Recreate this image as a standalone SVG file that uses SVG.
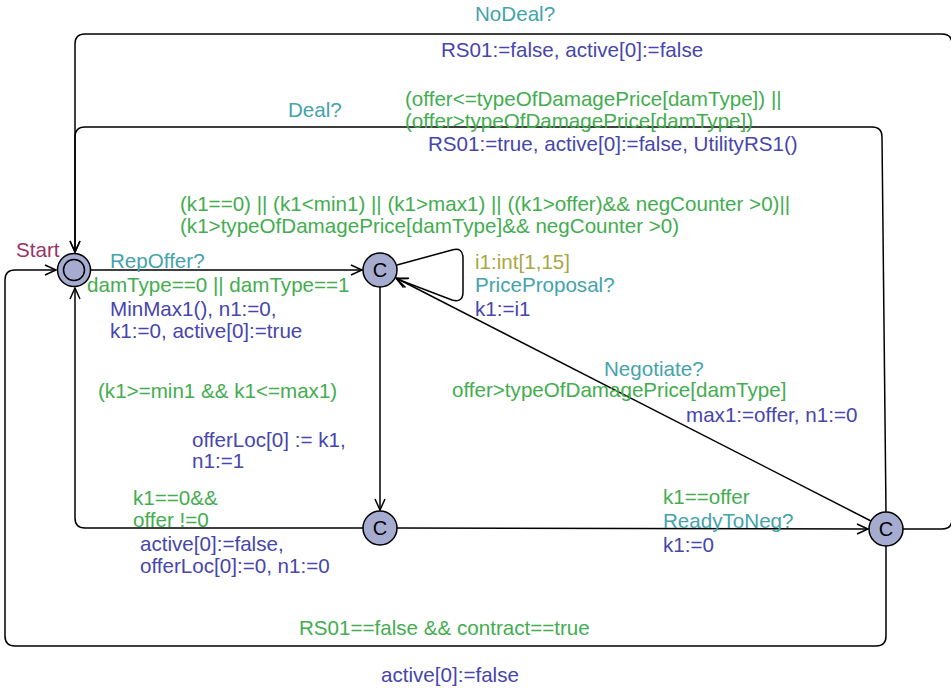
<svg xmlns="http://www.w3.org/2000/svg" width="951" height="688" viewBox="0 0 951 688">
<style>
text{font-family:"Liberation Sans",Arial,Helvetica,sans-serif;font-size:20.6px}
.sync{fill:#44a3ab}
.guard{fill:#43ad4f}
.upd{fill:#4646ad}
.sel{fill:#a8a844}
.name{fill:#993366}
.node{fill:#a6acd0;stroke:#000;stroke-width:1.5}
.edge{fill:none;stroke:#000;stroke-width:1.5;marker-end:url(#arr)}
.lbl{font-size:20px;fill:#000;text-anchor:middle}
</style>
<defs>
<marker id="arr" markerUnits="userSpaceOnUse" markerWidth="14" markerHeight="14" viewBox="-12 -7 14 14" refX="0" refY="0" orient="auto">
<path d="M-11,-5 L0,0 L-11,5" fill="none" stroke="#000" stroke-width="1.5"/>
</marker>
</defs>
<g id="connectors">
<path class="edge" d="M91,270 L362,270"/>
<path class="edge" d="M397,265 L452,250 Q463,247 463,258 L463,292 Q463,303 452,300 L397,279"/>
<path class="edge" d="M380,287 L380,510"/>
<path class="edge" d="M363,528 L85,528 Q75,528 75,518 L75,288"/>
<path class="edge" d="M397,528 L868,529"/>
<path class="edge" d="M871,521 L396,278"/>
<path class="edge" d="M903,529 L942,529 Q952,529 952,519 L952,44 Q952,34 942,34 L85,34 Q75,34 75,44 L75,252"/>
<path class="edge" d="M886,512 L882,137 Q882,127 872,127 L85,127 Q75,127 75,137 L75,252"/>
<path class="edge" d="M886,546 L886,636 Q886,646 876,646 L15,646 Q5,646 5,636 L5,280 Q5,270 15,270 L56,270"/>
</g>
<g id="labels">
<text class="sync" x="475" y="21">NoDeal?</text>
<text class="upd" x="441" y="57">RS01:=false, active[0]:=false</text>
<text class="sync" x="288" y="117">Deal?</text>
<text class="guard" x="405" y="106">(offer&lt;=typeOfDamagePrice[damType]) ||</text>
<text class="guard" x="405" y="128">(offer&gt;typeOfDamagePrice[damType])</text>
<text class="upd" x="428" y="151">RS01:=true, active[0]:=false, UtilityRS1()</text>
<text class="guard" x="180" y="211">(k1==0) || (k1&lt;min1) || (k1&gt;max1) || ((k1&gt;offer)&amp;&amp; negCounter &gt;0)||</text>
<text class="guard" x="180" y="233">(k1&gt;typeOfDamagePrice[damType]&amp;&amp; negCounter &gt;0)</text>
<text class="sync" x="110" y="268">RepOffer?</text>
<text class="guard" x="87" y="292">damType==0 || damType==1</text>
<text class="upd" x="110" y="316">MinMax1(), n1:=0,</text>
<text class="upd" x="110" y="338">k1:=0, active[0]:=true</text>
<text class="sel" x="475" y="269">i1:int[1,15]</text>
<text class="sync" x="475" y="292">PriceProposal?</text>
<text class="upd" x="475" y="316">k1:=i1</text>
<text class="guard" x="98" y="398">(k1&gt;=min1 &amp;&amp; k1&lt;=max1)</text>
<text class="upd" x="192" y="447">offerLoc[0] := k1,</text>
<text class="upd" x="192" y="468">n1:=1</text>
<text class="guard" x="133" y="505">k1==0&amp;&amp;</text>
<text class="guard" x="133" y="527">offer !=0</text>
<text class="upd" x="140" y="551">active[0]:=false,</text>
<text class="upd" x="140" y="573">offerLoc[0]:=0, n1:=0</text>
<text class="sync" x="604" y="376">Negotiate?</text>
<text class="guard" x="452" y="397">offer&gt;typeOfDamagePrice[damType]</text>
<text class="upd" x="686" y="422">max1:=offer, n1:=0</text>
<text class="guard" x="663" y="504">k1==offer</text>
<text class="sync" x="663" y="528">ReadyToNeg?</text>
<text class="upd" x="663" y="552">k1:=0</text>
<text class="guard" x="299" y="635">RS01==false &amp;&amp; contract==true</text>
<text class="upd" x="381" y="682">active[0]:=false</text>
</g>
<g id="start">
<circle class="node" cx="74" cy="270" r="16.5"/>
<circle cx="74" cy="270" r="10.5" fill="none" stroke="#000" stroke-width="1.5"/>
<text class="name" x="16" y="257">Start</text>
</g>
<g id="c1">
<circle class="node" cx="380" cy="270" r="17"/>
<text class="lbl" x="380" y="277">C</text>
</g>
<g id="c2">
<circle class="node" cx="380" cy="528" r="17"/>
<text class="lbl" x="380" y="535">C</text>
</g>
<g id="c3">
<circle class="node" cx="886" cy="529" r="17"/>
<text class="lbl" x="886" y="536">C</text>
</g>
</svg>
